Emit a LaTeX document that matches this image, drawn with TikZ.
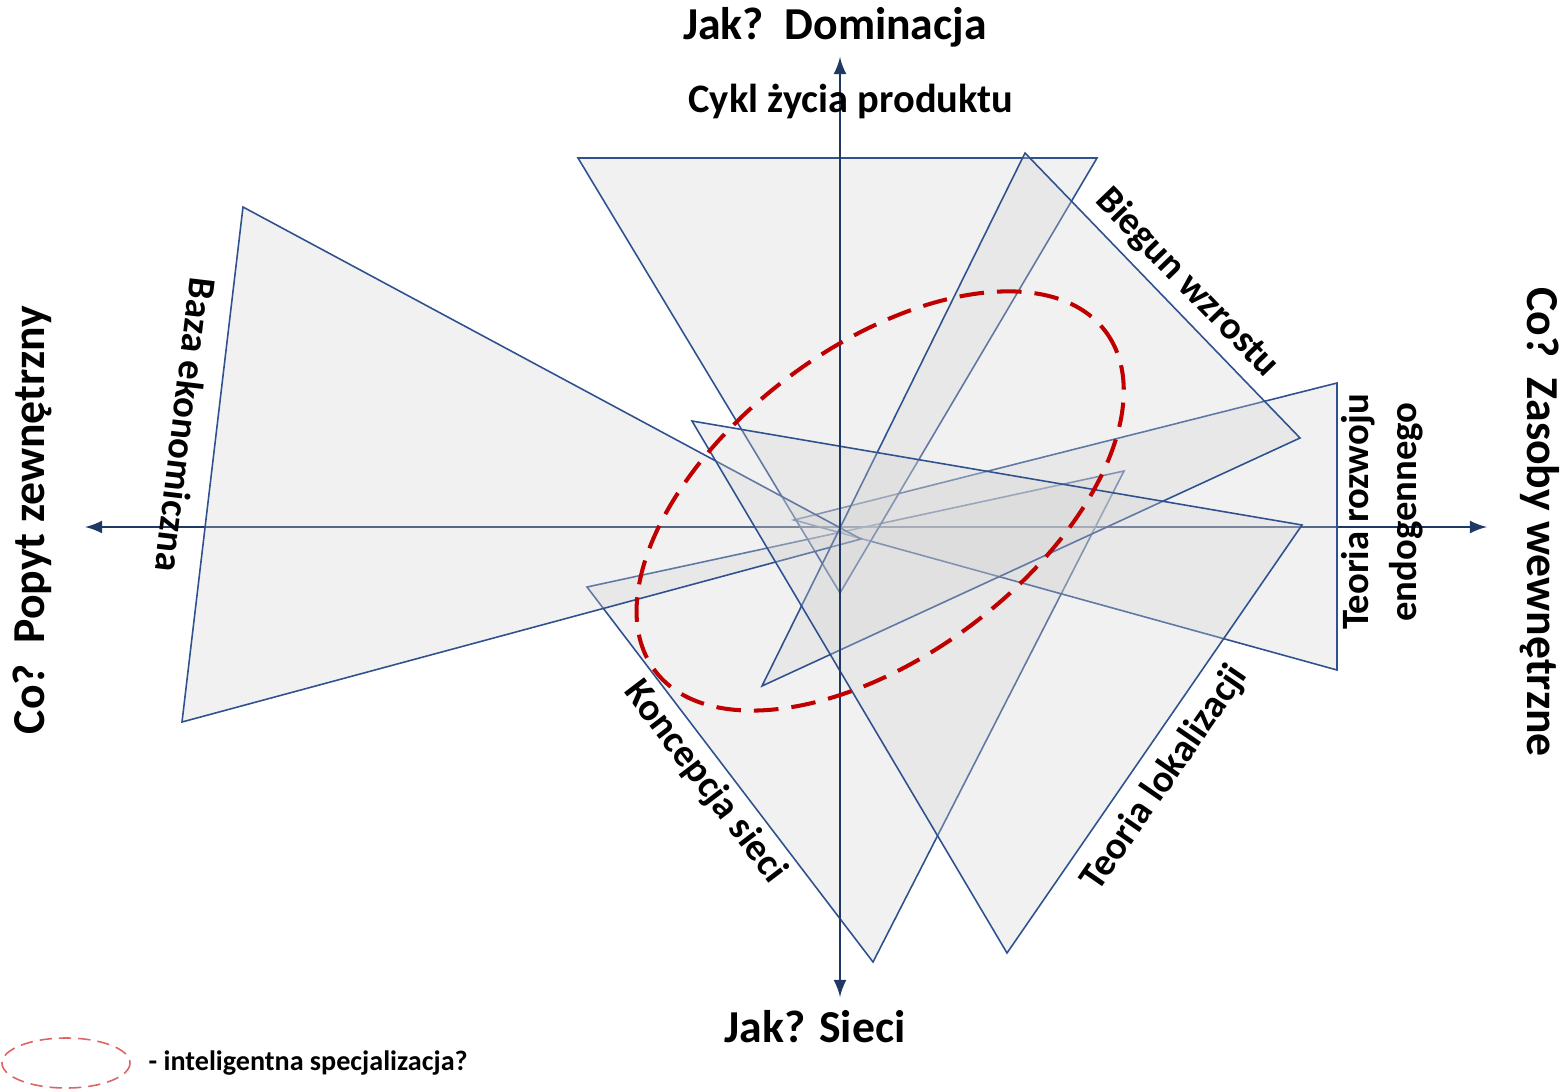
\documentclass[tikz,border=0pt]{standalone}
\usepackage{fontspec}
\setmainfont{Carlito}
\usetikzlibrary{arrows}
\definecolor{edgeblue}{RGB}{47,82,143}
\definecolor{axisblue}{RGB}{31,56,100}
\definecolor{shade}{RGB}{210,210,210}
\definecolor{ellred}{RGB}{192,0,0}
\definecolor{legred}{RGB}{222,100,100}

\begin{document}
\begin{tikzpicture}[x=0.01cm,y=-0.01cm,
    tri/.style={draw=edgeblue,line width=0.45pt,fill=shade,fill opacity=0.3},
    axis/.style={draw=axisblue,line width=0.7pt,latex-latex},
    lbl/.style={font=\fontsize{11}{13.5}\selectfont\bfseries,inner sep=0pt},
    ttl/.style={font=\fontsize{13}{13}\selectfont\bfseries,inner sep=0pt}]
  \useasboundingbox (0,0) rectangle (1567,1091);
  % osie
  \coordinate (w) at (85,527);
  \coordinate (e) at (1487,527);
  \coordinate (n) at (840,57);
  \coordinate (s) at (840,997);
  \draw[axis] (w) -- (e);
  % trojkaty
  \coordinate (ks1) at (587,587);
  \coordinate (ks2) at (873,962);
  \coordinate (ks3) at (1124,471);
  \draw[tri] (ks1) -- (ks2) -- (ks3) -- cycle;
  \coordinate (tr1) at (1337,383);
  \coordinate (tr2) at (1337,670);
  \coordinate (tr3) at (794,520);
  \draw[tri] (tr1) -- (tr2) -- (tr3) -- cycle;
  \coordinate (cz1) at (578,158);
  \coordinate (cz2) at (1097,158);
  \coordinate (cz3) at (840,593);
  \draw[tri] (cz1) -- (cz2) -- (cz3) -- cycle;
  \coordinate (be1) at (243,207);
  \coordinate (be2) at (182,722);
  \coordinate (be3) at (861,539);
  \draw[tri] (be1) -- (be2) -- (be3) -- cycle;
  \coordinate (bw1) at (1025,153);
  \coordinate (bw2) at (1300,438);
  \coordinate (bw3) at (762,686);
  \draw[tri] (bw1) -- (bw2) -- (bw3) -- cycle;
  \coordinate (tl1) at (1302,525);
  \coordinate (tl2) at (1007,953);
  \coordinate (tl3) at (692,421);
  \draw[tri] (tl1) -- (tl2) -- (tl3) -- cycle;
  \draw[axis] (n) -- (s);
  % elipsa
  \coordinate (ec) at (880,501);
  \draw[ellred,line width=1.15pt,dash pattern=on 7pt off 3.7pt,rotate around={37:(ec)}]
    (ec) ellipse [x radius=282,y radius=154];
  % opisy
  \node[ttl] (dominacja) at (835,27) {Jak?\ \ Dominacja};
  \node[ttl] (sieci) at (815,1027) {Jak? Sieci};
  \node[ttl,rotate=90] (popyt) at (32,520) {Co?\ \ Popyt zewnętrzny};
  \node[ttl,rotate=-90] (zasoby) at (1540,522) {Co?\ \ Zasoby wewnętrzne};
  \node[lbl,font=\fontsize{11.5}{13.5}\selectfont\bfseries] (cykl) at (851,101) {Cykl życia produktu};
  \node[lbl,rotate=-46] (biegun) at (1187,283) {Biegun wzrostu};
  \node[lbl,rotate=90,align=center] (endo) at (1382,512) {Teoria rozwoju\\endogennego};
  \node[lbl,rotate=55.4] (lokal) at (1165,778) {Teoria lokalizacji};
  \node[lbl,rotate=-52.7] (siec) at (705,782) {Koncepcja sieci};
  \node[lbl,rotate=-96.8] (baza) at (186,425) {Baza ekonomiczna};
  % legenda
  \coordinate (lc) at (66,1063);
  \draw[legred,line width=0.45pt,dash pattern=on 3.5pt off 2pt] (lc) ellipse [x radius=64,y radius=25];
  \node[font=\fontsize{8}{8}\selectfont\bfseries,anchor=west,inner sep=0pt] (legtxt) at (148,1063) {- inteligentna specjalizacja?};
\end{tikzpicture}
\end{document}
